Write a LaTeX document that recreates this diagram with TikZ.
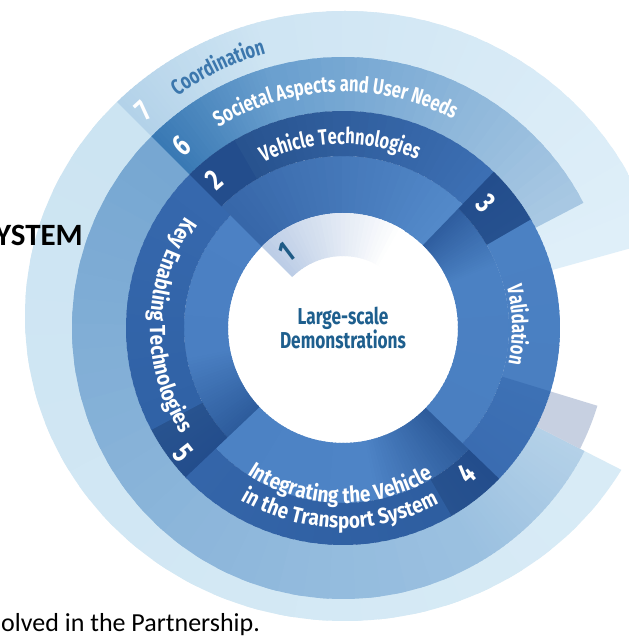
\documentclass[tikz,border=0pt]{standalone}
\usepackage{fontspec}
\usetikzlibrary{decorations.text}
\newfontfamily\condfont[FakeStretch=0.75]{Fira Sans}
\newfontfamily\widecond[FakeStretch=0.86]{Fira Sans}
\newfontfamily\docfont{Carlito}
\definecolor{navy}{HTML}{234D8C}
\definecolor{bsevtab}{HTML}{B3D2E9}
\definecolor{bseva}{HTML}{CFE5F3}
\definecolor{bsevb}{HTML}{DFEFF9}
\definecolor{bsevc}{HTML}{D8EBF6}
\definecolor{bsevd}{HTML}{CCE4F2}
\definecolor{bsixtab}{HTML}{3979B4}
\definecolor{bsixa}{HTML}{6BA0CF}
\definecolor{bsixb}{HTML}{A8C8E3}
\definecolor{bsixc}{HTML}{B4D1E8}
\definecolor{bsixd}{HTML}{9AC0E0}
\definecolor{bsixe}{HTML}{77A7D2}
\definecolor{grayish}{HTML}{C7D0E1}
\definecolor{coordblue}{HTML}{3C77AD}
\definecolor{textteal}{HTML}{1E5F8E}
\definecolor{oneteal}{HTML}{1F5B86}
\definecolor{wedgecol}{HTML}{BCCDE6}
\definecolor{stwoin}{HTML}{3767A9}
\definecolor{stwoinl}{HTML}{5389C9}
\definecolor{stwoa}{HTML}{28538F}
\definecolor{stwob}{HTML}{3C6FB3}
\definecolor{sthrin}{HTML}{2F5E9F}
\definecolor{vala}{HTML}{4B81C3}
\definecolor{valb}{HTML}{4A7FC1}
\definecolor{sthrtab}{HTML}{26518F}
\definecolor{leada}{HTML}{3D71B5}
\definecolor{leadb}{HTML}{3A6CB1}
\definecolor{sfourin}{HTML}{2D5B9B}
\definecolor{sfourl}{HTML}{4E84C6}
\definecolor{sfourm}{HTML}{4C82C4}
\definecolor{sfourtab}{HTML}{27528F}
\definecolor{sfoura}{HTML}{2E5EA0}
\definecolor{sfourb}{HTML}{3465A9}
\definecolor{sfivein}{HTML}{2D5C9C}
\definecolor{sfivel}{HTML}{4A7FC2}
\definecolor{sfivem}{HTML}{4C81C4}
\definecolor{sfivetab}{HTML}{28538F}
\definecolor{sfivea}{HTML}{3062A6}
\definecolor{sfiveb}{HTML}{3668AD}
% annular sector with an angular colour gradient:
% #1 inner r, #2 outer r, #3 start angle, #4 end angle, #5 start colour, #6 end colour
\newcommand\gseg[6]{%
  \foreach \k in {0,...,29}{%
    \pgfmathsetmacro\sa{#3+(#4-#3)*\k/30}%
    \pgfmathsetmacro\sb{\k<29 ? #3+(#4-#3)*(\k+1.5)/30 : #4+0.5*sign(#4-#3)}%
    \pgfmathtruncatemacro\pp{round(100-100*\k/29)}%
    \fill[fill=#5!\pp!#6] (\sa:#1) -- (\sa:#2) arc[start angle=\sa, end angle=\sb, radius=#2]
      -- (\sb:#1) arc[start angle=\sb, end angle=\sa, radius=#1] -- cycle;
  }%
}
\newcommand\bandfont{\condfont\bfseries\fontsize{22}{22}\selectfont}
\newcommand\inwfont{\widecond\bfseries\fontsize{22}{22}\selectfont}
\tikzset{
  numtxt/.style={font=\condfont\bfseries\fontsize{30}{30}\selectfont, text=white, inner sep=0pt},
  centertxt/.style={font=\condfont\bfseries\fontsize{23}{24}\selectfont, text=textteal, align=center, inner sep=0pt},
  doctxt/.style={font=\docfont\fontsize{26}{26}\selectfont, text=black, inner sep=0pt}
}
\begin{document}
\begin{tikzpicture}[x=1pt,y=1pt]
\useasboundingbox (0,0) rectangle (629,643);
\fill[white] (0,0) rectangle (629,643);
\begin{scope}[shift={(343,315)}]
  % band 7 (Coordination)
  \begin{scope}
    \clip (2,12) ellipse [x radius=320, y radius=305];
    \gseg{217}{420}{-27}{-225}{bsevc}{bsevd}
    \gseg{217}{420}{135}{105}{bsevtab}{bseva}
    \gseg{217}{420}{105}{16}{bseva}{bsevb}
  \end{scope}
  % band 6 (Societal)
  \gseg{217}{271}{-27}{-60}{bsixc}{bsixd}
  \gseg{217}{271}{-60}{-225}{bsixd}{bsixe}
  \gseg{217}{271}{135}{105}{bsixtab}{bsixa}
  \gseg{217}{271}{105}{28}{bsixa}{bsixb}
  \fill[grayish] (-17:217) arc[start angle=-17, end angle=-27, radius=217]
     -- (-27:266) arc[start angle=-27, end angle=-17, radius=266] -- cycle;
  % segment 5 (drawn first, it wraps round to 135 degrees)
  \gseg{115}{159}{-136}{-170}{sfivein}{sfivel}
  \gseg{115}{159}{-170}{-225}{sfivel}{sfivem}
  \gseg{159}{217}{-136}{-152}{navy}{sfivetab}
  \gseg{159}{217}{-152}{-225}{sfivea}{sfiveb}
  % segment 2
  \gseg{115}{172}{135}{46}{stwoin}{stwoinl}
  \gseg{172}{217}{135}{120}{navy}{navy}
  \gseg{172}{217}{120}{46}{stwoa}{stwob}
  % segment 3
  \gseg{115}{166}{46}{22}{sthrin}{vala}
  \gseg{115}{166}{22}{-44}{vala}{valb}
  \gseg{166}{217}{46}{30}{navy}{sthrtab}
  \gseg{166}{217}{30}{-17}{vala}{valb}
  \gseg{166}{217}{-17}{-44}{leada}{leadb}
  % segment 4
  \gseg{115}{175}{-44}{-80}{sfourin}{sfourl}
  \gseg{115}{175}{-80}{-136}{sfourl}{sfourm}
  \gseg{175}{217}{-44}{-60}{navy}{sfourtab}
  \gseg{175}{217}{-60}{-136}{sfoura}{sfourb}
  % wedge 1
  \gseg{72}{115}{135}{58}{wedgecol}{white}
  % curved labels
  \path[decorate, decoration={text along path, text align=center,
     text={|\bandfont\color{coordblue}|Coordination}}]
     (175.6:285) arc[start angle=175.6, end angle=55.6, radius=285];
  \path[decorate, decoration={text along path, text align=center,
     text={|\bandfont\color{white}|Societal Aspects and User Needs}}]
     (152:236) arc[start angle=152, end angle=32, radius=236];
  \path[decorate, decoration={text along path, text align=center,
     text={|\bandfont\color{white}|Vehicle Technologies}}]
     (151:184) arc[start angle=151, end angle=31, radius=184];
  \path[decorate, decoration={text along path, text align=center,
     text={|\bandfont\color{white}|Validation}}]
     (61:169) arc[start angle=61, end angle=-59, radius=169];
  \path[decorate, decoration={text along path, text align=center,
     text={|\inwfont\color{white}|Key Enabling Technologies}}]
     (119:193) arc[start angle=119, end angle=239, radius=193];
  \path[decorate, decoration={text along path, text align=center,
     text={|\inwfont\color{white}|Integrating the Vehicle}}]
     (-151:175) arc[start angle=-151, end angle=-31, radius=175];
  \path[decorate, decoration={text along path, text align=center,
     text={|\inwfont\color{white}|in the Transport System}}]
     (-151:200) arc[start angle=-151, end angle=-31, radius=200];
  % numbers
  \node[numtxt, text=oneteal, rotate=37] (n1) at (126.7:94) {1};
  \node[numtxt, rotate=41] (n2) at (131:196) {2};
  \node[numtxt, rotate=-49] (n3) at (41:190) {3};
  \node[numtxt, rotate=40.5] (n4) at (-49.5:191) {4};
  \node[numtxt, rotate=-52] (n5) at (-142:203) {5};
  \node[numtxt, rotate=41.5] (n6) at (131.5:244) {6};
  \node[numtxt, rotate=42.5] (n7) at (132.5:295) {7};
  \node[centertxt] (center) at (0,0) {Large-scale\\Demonstrations};
\end{scope}
\node[doctxt, font=\docfont\bfseries\fontsize{31}{31}\selectfont, anchor=base east] (ystem) at (83,397) {YSTEM};
\node[doctxt, anchor=base west] (partner) at (1,12) {olved in the Partnership.};
\end{tikzpicture}
\end{document}
